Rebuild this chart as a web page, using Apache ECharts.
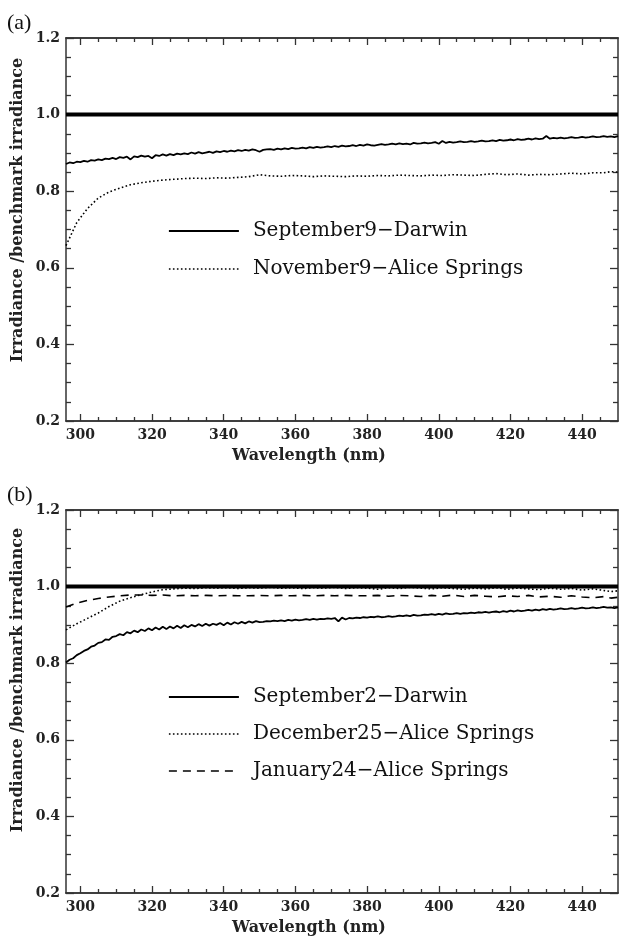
<!DOCTYPE html>
<html><head><meta charset="utf-8">
<script src="https://cdn.jsdelivr.net/npm/echarts@6/dist/echarts.min.js"></script>
<style>html,body{margin:0;padding:0;background:#fff}#c{width:620px;height:945px}</style>
</head><body><div id="c"></div>
<script>
// ---------- data ----------
const wlFine = [
296,297,298,299,300,301,302,303,304,305,
306,307,308,309,310,311,312,313,314,315,
316,317,318,319,320,321,322,323,324,325,
326,327,328,329,330,331,332,333,334,335,
336,337,338,339,340,341,342,343,344,345,
346,347,348,349,350,351,352,353,354,355,
356,357,358,359,360,361,362,363,364,365,
366,367,368,369,370,371,372,373,374,375,
376,377,378,379,380,381,382,383,384,385,
386,387,388,389,390,391,392,393,394,395,
396,397,398,399,400,401,402,403,404,405,
406,407,408,409,410,411,412,413,414,415,
416,417,418,419,420,421,422,423,424,425,
426,427,428,429,430,431,432,433,434,435,
436,437,438,439,440,441,442,443,444,445,
446,447,448,449,450];
const wlCoarse = [
296,299,302,305,308,311,314,317,320,323,
326,329,332,335,338,341,344,347,350,353,
356,359,362,365,368,371,374,377,380,383,
386,389,392,395,398,401,404,407,410,413,
416,419,422,425,428,431,434,437,440,443,
446,448,450];
const wlBench = [296, 450];
const benchmark = [1.0, 1.0];

// panel (a)
const sep9Darwin = [
.871,.875,.873,.877,.876,.879,.877,.881,.880,.883,
.881,.885,.884,.887,.884,.889,.887,.890,.883,.891,
.889,.893,.890,.892,.886,.894,.892,.896,.893,.897,
.894,.898,.896,.899,.897,.901,.898,.902,.899,.901,
.903,.900,.904,.902,.905,.903,.906,.904,.907,.905,
.908,.906,.909,.907,.903,.908,.909,.910,.908,.911,
.909,.912,.910,.913,.911,.912,.914,.912,.915,.913,
.916,.914,.915,.917,.915,.918,.916,.919,.917,.918,
.920,.918,.921,.919,.922,.920,.919,.921,.923,.921,
.922,.924,.922,.925,.923,.924,.922,.926,.924,.925,
.927,.925,.926,.928,.924,.931,.926,.929,.927,.928,
.930,.928,.929,.931,.929,.930,.932,.930,.931,.933,
.931,.934,.932,.933,.935,.933,.936,.934,.935,.937,
.935,.938,.936,.937,.944,.937,.939,.938,.940,.938,
.939,.941,.939,.940,.942,.940,.941,.943,.941,.942,
.944,.942,.943,.941,.944];
const nov9Alice = [
.658,.718,.755,.782,.798,.808,.817,.822,.826,.829,
.831,.833,.834,.833,.835,.834,.836,.838,.843,.840,
.839,.841,.840,.838,.840,.839,.838,.840,.839,.841,
.840,.842,.841,.840,.842,.841,.843,.842,.841,.844,
.846,.843,.845,.842,.844,.843,.845,.847,.845,.848,
.848,.851,.850];

// panel (b)
const sep2Darwin = [
.802,.809,.813,.821,.826,.832,.836,.843,.846,.853,
.855,.862,.861,.869,.871,.876,.873,.881,.878,.885,
.881,.888,.884,.891,.886,.893,.888,.895,.889,.896,
.891,.898,.892,.899,.894,.900,.896,.902,.897,.903,
.898,.903,.900,.905,.899,.906,.901,.907,.903,.908,
.904,.909,.906,.910,.907,.908,.910,.909,.911,.910,
.912,.910,.913,.911,.914,.912,.913,.915,.913,.916,
.914,.916,.915,.917,.916,.918,.909,.919,.914,.918,
.917,.919,.918,.920,.919,.921,.920,.922,.920,.921,
.923,.921,.922,.924,.923,.925,.923,.926,.924,.925,
.927,.926,.928,.926,.929,.927,.930,.928,.929,.931,
.929,.931,.930,.932,.931,.933,.932,.934,.932,.934,
.935,.933,.936,.934,.937,.935,.938,.936,.937,.939,
.937,.940,.938,.941,.939,.942,.940,.941,.943,.941,
.942,.944,.942,.943,.945,.943,.944,.946,.944,.945,
.947,.945,.946,.944,.946];
const dec25Alice = [
.887,.903,.917,.931,.948,.962,.971,.979,.986,.992,
.994,.996,.995,.997,.996,.997,.995,.997,.996,.998,
.996,.997,.995,.997,.996,.998,.995,.997,.996,.993,
.997,.995,.998,.996,.994,.997,.995,.993,.996,.994,
.997,.993,.996,.994,.992,.996,.993,.995,.991,.994,
.990,.987,.989];
const jan24Alice = [
.947,.957,.964,.969,.973,.976,.978,.978,.977,.978,
.976,.977,.976,.977,.976,.977,.976,.976,.977,.976,
.977,.976,.977,.976,.977,.976,.977,.976,.976,.977,
.975,.977,.976,.974,.977,.975,.978,.974,.977,.975,
.973,.976,.974,.977,.973,.975,.972,.976,.973,.971,
.974,.970,.972];

const xTickValues = [300, 320, 340, 360, 380, 400, 420, 440];
const xMinorTickValues = [
305,310,315,325,330,335,345,350,355,365,370,375,
385,390,395,405,410,415,425,430,435,445];
const yTickLabels = ['0.2','0.4','0.6','0.8','1.0','1.2'];
const namesA = ['September9\u2212Darwin', 'November9\u2212Alice Springs'];
const namesB = ['September2\u2212Darwin', 'December25\u2212Alice Springs', 'January24\u2212Alice Springs'];

// ---------- chart ----------
const zip = (xs, ys) => xs.map((x, i) => [x, ys[i]]);
const X_MIN = 296, X_MAX = 450;
const AX = '#333';
const tickFont = { fontFamily: 'DejaVu Serif', fontWeight: 'bold', fontSize: 14, color: '#222' };

const grids = [
  { left: 66, top: 38, width: 552, height: 383 },
  { left: 66, top: 510, width: 552, height: 383 }
];

const xAxes = [], yAxes = [];
grids.forEach((g, gi) => {
  const base = { type: 'value', gridIndex: gi, min: X_MIN, max: X_MAX, splitLine: { show: false },
    axisLine: { lineStyle: { color: AX, width: 1.5 } } };
  xAxes.push(Object.assign({}, base, {
    position: 'bottom',
    axisTick: { inside: true, length: 7, customValues: xTickValues, lineStyle: { color: AX, width: 1.3 } },
    axisLabel: { margin: 7, customValues: xTickValues, ...tickFont },
    name: 'Wavelength (nm)', nameLocation: 'middle', nameGap: 27,
    nameTextStyle: { fontFamily: 'DejaVu Serif', fontWeight: 'bold', fontSize: 16, color: '#222',
      padding: [0, 66, 0, 0] }
  }));
  xAxes.push(Object.assign({}, base, {
    position: 'bottom',
    axisTick: { inside: true, length: 4, customValues: xMinorTickValues, lineStyle: { color: AX, width: 1.3 } },
    axisLabel: { show: false }
  }));
  xAxes.push(Object.assign({}, base, {
    position: 'top',
    axisTick: { inside: true, length: 7, customValues: xTickValues, lineStyle: { color: AX, width: 1.3 } },
    axisLabel: { show: false }
  }));
  xAxes.push(Object.assign({}, base, {
    position: 'top',
    axisTick: { inside: true, length: 4, customValues: xMinorTickValues, lineStyle: { color: AX, width: 1.3 } },
    axisLabel: { show: false }
  }));
  const ybase = { type: 'value', gridIndex: gi, min: 0.2, max: 1.2, interval: 0.2, splitLine: { show: false },
    axisLine: { show: true, lineStyle: { color: AX, width: 1.5 } },
    axisTick: { inside: true, length: 8, lineStyle: { color: AX, width: 1.3 } },
    minorTick: { show: true, splitNumber: 4, length: 5, lineStyle: { color: AX, width: 1.3 } } };
  yAxes.push(Object.assign({}, ybase, {
    position: 'left',
    axisLabel: { margin: 6, formatter: v => { const s = v.toFixed(1); return yTickLabels.indexOf(s) >= 0 ? s : ''; }, ...tickFont }
  }));
  yAxes.push(Object.assign({}, ybase, { position: 'right', axisLabel: { show: false } }));
});

function line(name, gi, wl, vals, style) {
  return { type: 'line', name, xAxisIndex: gi * 4, yAxisIndex: gi * 2, data: zip(wl, vals),
    symbol: 'none', silent: true, itemStyle: { color: '#000' },
    lineStyle: Object.assign({ color: '#000' }, style), z: 3 };
}

const series = [
  line('bench-a', 0, wlBench, benchmark, { width: 4 }),
  line(namesA[0], 0, wlFine, sep9Darwin, { width: 1.8 }),
  line(namesA[1], 0, wlCoarse, nov9Alice, { width: 1.6, type: [1.6, 2.4] }),
  line('bench-b', 1, wlBench, benchmark, { width: 4 }),
  line(namesB[0], 1, wlFine, sep2Darwin, { width: 1.8 }),
  line(namesB[1], 1, wlCoarse, dec25Alice, { width: 1.6, type: [1.6, 2.4] }),
  line(namesB[2], 1, wlCoarse, jan24Alice, { width: 1.6, type: [8, 6] })
];

const legendText = { fontFamily: 'DejaVu Serif', fontSize: 20, color: '#111', padding: [0, 0, 0, 9] };
const legendBase = { left: 163, orient: 'vertical', itemWidth: 70, itemHeight: 20,
  textStyle: legendText, lineStyle: { width: 'inherit' }, itemStyle: { opacity: 0 }, selectedMode: false };
const legends = [
  Object.assign({}, legendBase, { data: namesA, top: 216, itemGap: 18 }),
  Object.assign({}, legendBase, { data: namesB, top: 682, itemGap: 17 })
];

const yTitle = 'Irradiance /benchmark irradiance';
const graphic = [
  { type: 'text', x: 7, y: 12, style: { text: '(a)', font: '22px "Liberation Serif"', fill: '#111' } },
  { type: 'text', x: 7, y: 484, style: { text: '(b)', font: '22px "Liberation Serif"', fill: '#111' } },
  { type: 'text', x: 18, y: 210, rotation: Math.PI / 2,
    style: { text: yTitle, font: 'bold 16px "DejaVu Serif"', fill: '#222', align: 'center', verticalAlign: 'middle' } },
  { type: 'text', x: 18, y: 680, rotation: Math.PI / 2,
    style: { text: yTitle, font: 'bold 16px "DejaVu Serif"', fill: '#222', align: 'center', verticalAlign: 'middle' } }
];

const chart = echarts.init(document.getElementById('c'), null, { renderer: 'canvas' });
chart.setOption({
  animation: false,
  backgroundColor: '#fff',
  grid: grids,
  xAxis: xAxes,
  yAxis: yAxes,
  legend: legends,
  series,
  graphic
});
</script>
</body></html>
